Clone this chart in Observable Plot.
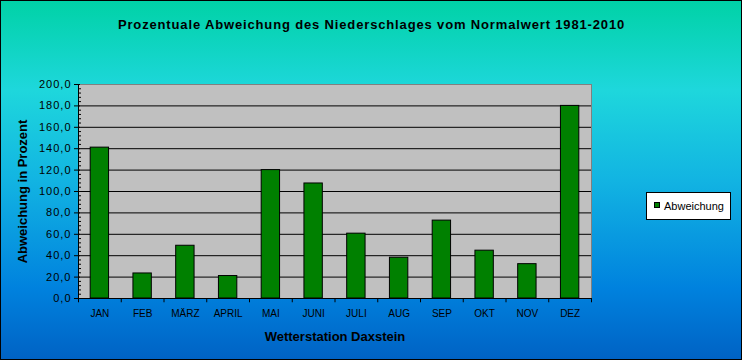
<!DOCTYPE html>
<html>
<head>
<meta charset="utf-8">
<script src="https://cdn.jsdelivr.net/npm/d3@7"></script>
<script src="https://cdn.jsdelivr.net/npm/@observablehq/plot@0.6"></script>
<style>
  html, body { margin: 0; padding: 0; background: #0062c4; }
</style>
</head>
<body>
<div id="chart"></div>
<script>
const months = ["JAN","FEB","MÄRZ","APRIL","MAI","JUNI","JULI","AUG","SEP","OKT","NOV","DEZ"];
const values = [141.0, 23.4, 49.3, 21.0, 120.0, 107.5, 60.6, 38.1, 72.8, 44.7, 32.1, 180.0];
const yTicks = d3.range(0, 201, 20);
const gridTicks = d3.range(20, 181, 20);
const minorTicks = d3.range(0, 201, 4).filter(d => d % 20 !== 0);
const titleText = "Prozentuale Abweichung des Niederschlages vom Normalwert 1981-2010";
const xTitle = "Wetterstation Daxstein";
const yTitle = "Abweichung in Prozent";
const seriesName = "Abweichung";

const data = months.map((m, i) => ({month: m, value: values[i]}));

const W = 742, H = 360, ML = 78, MR = 151, MT = 84, MB = 62;
const step = (W - ML - MR) / months.length;
const font = "'Liberation Sans', Arial, sans-serif";
const fmt = d => d.toFixed(1).replace(".", ",");

const chart = Plot.plot({
  width: W, height: H,
  marginLeft: ML, marginRight: MR, marginTop: MT, marginBottom: MB,
  style: {
    background: "linear-gradient(to bottom, #00d2a6 0%, #1ed7dc 25%, #12b4e2 50%, #0082de 80%, #0062c4 100%)",
    color: "black",
    fontFamily: font,
    outline: "1px solid black",
    outlineOffset: "-1px"
  },
  x: {domain: months, paddingInner: 0.57, paddingOuter: 0.285, round: false, label: null},
  y: {domain: [0, 200], label: null},
  marks: [
    Plot.frame({fill: "#c0c0c0", stroke: "#808080"}),
    Plot.ruleY(gridTicks, {stroke: "black"}),
    Plot.barY(data, {x: "month", y: "value", fill: "#008000", stroke: "black", strokeWidth: 1}),
    Plot.frame({anchor: "left", stroke: "black"}),
    Plot.frame({anchor: "bottom", stroke: "black"}),
    Plot.axisY({ticks: yTicks, tickSize: 4, tickPadding: 3, fontSize: 11, tickFormat: fmt}),
    Plot.axisY({ticks: yTicks, tickSize: -2, text: null}),
    Plot.axisY({ticks: minorTicks, tickSize: -3, text: null}),
    Plot.axisX({tickSize: 0, tickPadding: 11, fontSize: 10}),
    Plot.ruleX(months, {x: d => d, dx: -step / 2, y1: 0, y2: -4, stroke: "black"}),
    Plot.ruleX([months[months.length - 1]], {x: d => d, dx: step / 2, y1: 0, y2: -4, stroke: "black"}),
    Plot.text([titleText], {text: d => d, frameAnchor: "top", lineAnchor: "middle", textAnchor: "middle", dy: -60, dx: (W / 2) - (ML + (W - ML - MR) / 2), fontWeight: "bold", fontSize: 13, fill: "black"}),
    Plot.text([xTitle], {text: d => d, frameAnchor: "bottom", lineAnchor: "middle", textAnchor: "middle", dy: 38, fontWeight: "bold", fontSize: 13, fill: "black"}),
    Plot.text([yTitle], {text: d => d, frameAnchor: "left", lineAnchor: "middle", textAnchor: "middle", dx: -56, rotate: -90, fontWeight: "bold", fontSize: 13, fill: "black"})
  ]
});

const svg = d3.select(chart);
// letter spacing tweaks to mimic the original's wide glyph rendering
svg.selectAll("text").filter(function() { return this.textContent === titleText; })
  .style("letter-spacing", "0.85px");
const yLabels = new Set(yTicks.map(fmt));
svg.selectAll("text").filter(function() { return yLabels.has(this.textContent); })
  .style("letter-spacing", "1px");

// legend
const lg = svg.append("g").attr("font-family", font).attr("font-size", 11).attr("text-anchor", "start");
lg.append("rect").attr("x", 646.5).attr("y", 192.5).attr("width", 84).attr("height", 27)
  .attr("fill", "white").attr("stroke", "black");
lg.append("rect").attr("x", 654.5).attr("y", 202.5).attr("width", 5).attr("height", 5)
  .attr("fill", "#008000").attr("stroke", "black");
lg.append("text").attr("x", 664).attr("y", 205.5).attr("dominant-baseline", "central")
  .attr("text-anchor", "start").attr("fill", "black").text(seriesName);

document.getElementById("chart").appendChild(chart);
</script>
</body>
</html>
